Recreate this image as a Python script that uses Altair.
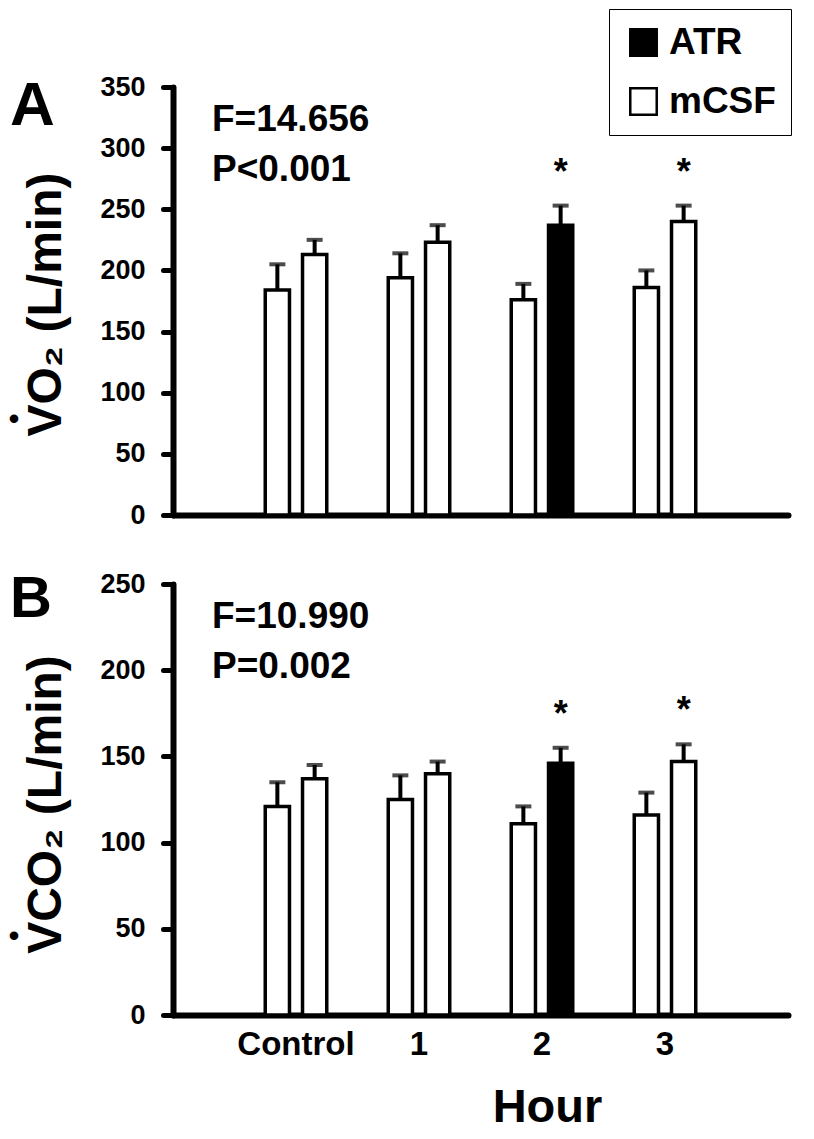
import altair as alt
import pandas as pd

# ---------------- data ----------------
hours = ["Control", "1", "2", "3"]
bar_slots = ["first", "second"]

# Panel A: VO2 (L/min)
vo2_first = [184, 194, 176, 186]
vo2_first_sem = [21, 20, 13, 14]
vo2_second = [213, 223, 237, 240]
vo2_second_sem = [12, 14, 16, 13]

# Panel B: VCO2 (L/min)
vco2_first = [121, 125, 111, 116]
vco2_first_sem = [14, 14, 10, 13]
vco2_second = [137, 140, 146, 147]
vco2_second_sem = [8, 7, 9, 10]

# treatment shown by each bar's fill (as drawn in the figure)
treat_first = ["mCSF", "mCSF", "mCSF", "mCSF"]
treat_second = ["mCSF", "mCSF", "ATR", "mCSF"]

# significance stars
sig_first = [False, False, False, False]
sig_second = [False, False, True, True]

legend_labels = ["ATR", "mCSF"]
legend_fills = ["black", "white"]

stats_A = "F=14.656\nP<0.001"
stats_B = "F=10.990\nP=0.002"

FONT = "Liberation Sans"


def make_df(v1, s1, v2, s2):
    rows = []
    for i, h in enumerate(hours):
        rows.append(dict(hour=h, slot="first", value=v1[i], upper=v1[i] + s1[i],
                         treat=treat_first[i], sig=sig_first[i]))
        rows.append(dict(hour=h, slot="second", value=v2[i], upper=v2[i] + s2[i],
                         treat=treat_second[i], sig=sig_second[i]))
    return pd.DataFrame(rows)


def panel(df, ymax, height, ytitle, title_y, dot_y, stats, letter, letter_size,
          letter_y, bottom, show_legend):
    x_axis = alt.Axis(
        title="Hour" if bottom else None,
        labels=bottom,
        ticks=False,
        labelFontSize=33,
        labelPadding=13,
        labelAngle=0,
        titleX=374,
        titleY=106,
        titleBaseline="alphabetic",
        titleFontSize=47,
    )
    base = alt.Chart(df).encode(
        x=alt.X("hour:N", sort=hours,
                scale=alt.Scale(domain=hours, paddingInner=0.5, paddingOuter=0.75),
                axis=x_axis),
        xOffset=alt.XOffset("slot:N", sort=bar_slots,
                            scale=alt.Scale(domain=bar_slots, paddingInner=0.35, paddingOuter=0)),
    )
    y_axis = alt.Axis(
        values=list(range(0, ymax + 1, 50)),
        title=ytitle,
        titleX=-113,
        titleY=title_y,
        titleAngle=-90,
        titleAlign="center",
        titleBaseline="alphabetic",
        titleFontSize=48,
        labelPadding=18,
        labelFontSize=27,
    )
    if show_legend:
        legend = alt.Legend(
            orient="none", legendX=436, legendY=-78, direction="vertical",
            title=None, symbolType="square", symbolSize=700,
            symbolStrokeColor="black", symbolStrokeWidth=2.5,
            labelFont=FONT, labelFontWeight="bold", labelFontSize=37,
            labelColor="black", labelOffset=7, padding=15, rowPadding=21,
            symbolOffset=1, strokeColor="black", fillColor="white",
        )
    else:
        legend = None
    bars = base.mark_bar(stroke="black", strokeWidth=3.5).encode(
        y=alt.Y("value:Q", scale=alt.Scale(domain=[0, ymax], nice=False), axis=y_axis),
        fill=alt.Fill("treat:N", scale=alt.Scale(domain=legend_labels, range=legend_fills),
                      legend=legend),
    )
    err = base.mark_rule(color="black", strokeWidth=4).encode(
        y="value:Q", y2="upper:Q")
    caps = base.mark_tick(color="black", thickness=4, size=16).encode(y="upper:Q")
    stars = base.transform_filter("datum.sig").mark_text(
        text="*", font=FONT, fontWeight="bold", fontSize=36, dy=-22,
        baseline="alphabetic", color="black").encode(y="upper:Q")
    stat = alt.Chart(pd.DataFrame({"t": [stats]})).mark_text(
        font=FONT, fontWeight="bold", fontSize=37, align="left", baseline="alphabetic",
        lineBreak="\n", lineHeight=50, color="black").encode(
        x=alt.value(39), y=alt.value(44), text="t:N")
    let = alt.Chart(pd.DataFrame({"t": [letter]})).mark_text(
        font=FONT, fontWeight="bold", fontSize=letter_size, align="left",
        baseline="alphabetic", color="black").encode(
        x=alt.value(-163), y=alt.value(letter_y), text="t:N")
    # the dot over the V of the rotated axis title
    dot = alt.Chart(pd.DataFrame({"t": ["\u2022"]})).mark_text(
        font=FONT, fontWeight="bold", fontSize=30, align="center", baseline="middle",
        color="black").encode(x=alt.value(-159), y=alt.value(dot_y), text="t:N")
    return alt.layer(bars, err, caps, stars, stat, let, dot).properties(
        width=615, height=height)


dfA = make_df(vo2_first, vo2_first_sem, vo2_second, vo2_second_sem)
dfB = make_df(vco2_first, vco2_first_sem, vco2_second, vco2_second_sem)

A = panel(dfA, 350, 428, "VO\u2082 (L/min)", 217, 333, stats_A, "A", 62, 38, False, True)
B = panel(dfB, 250, 431, "VCO\u2082 (L/min)", 220, 353, stats_B, "B", 58, 33, True, False)

chart = alt.vconcat(A, B, spacing=69, bounds="flush").resolve_scale(
    x="independent", y="independent", fill="independent"
).resolve_legend(fill="independent").configure_view(stroke=None).configure_axis(
    domainColor="black", domainWidth=6, domainCap="round",
    tickColor="black", tickWidth=5, tickSize=10, tickCap="round",
    labelFont=FONT, labelFontWeight="bold", labelFontSize=26, labelColor="black",
    titleFont=FONT, titleFontWeight="bold", titleColor="black",
    grid=False,
).properties(padding={"left": 0, "top": 0, "right": 0, "bottom": 0})

chart.save("out.html", embed_options={"renderer": "svg", "actions": False})
